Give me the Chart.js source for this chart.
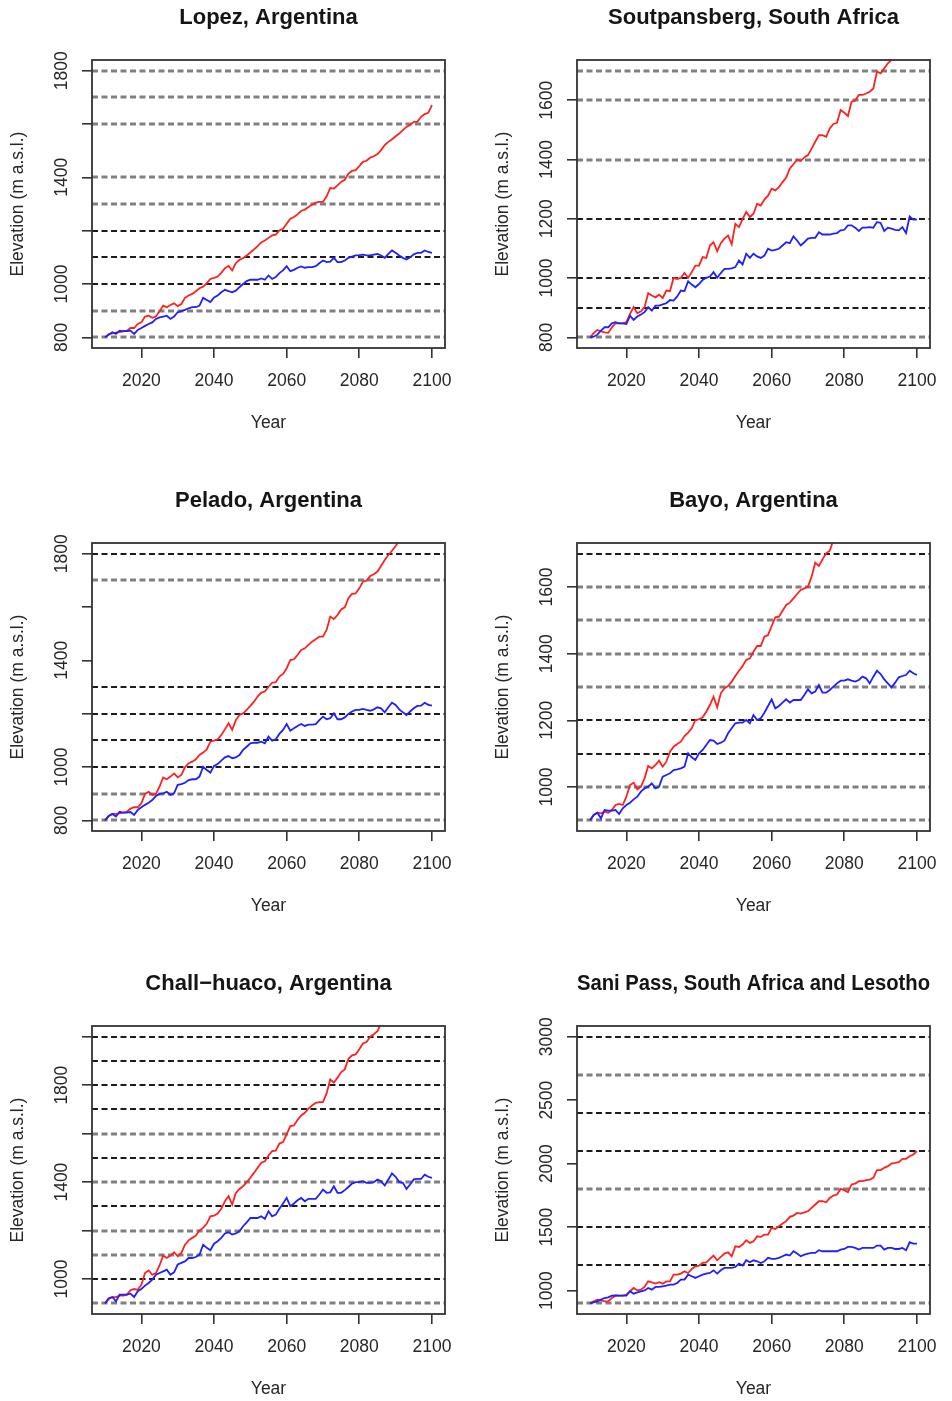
<!DOCTYPE html>
<html>
<head>
<meta charset="utf-8">
<script src="https://cdn.jsdelivr.net/npm/chart.js@4.4.1/dist/chart.umd.min.js"></script>
<style>
html, body { margin: 0; padding: 0; background: #fff; overflow: hidden; }
#wrap { position: relative; width: 952px; height: 1401px; overflow: hidden; }
#wrap canvas { position: absolute; }
</style>
</head>
<body>
<div id="wrap"></div>
<script>
// years on the x axis
const years = [
  2010, 2011, 2012, 2013, 2014, 2015, 2016, 2017, 2018, 2019,
  2020, 2021, 2022, 2023, 2024, 2025, 2026, 2027, 2028, 2029,
  2030, 2031, 2032, 2033, 2034, 2035, 2036, 2037, 2038, 2039,
  2040, 2041, 2042, 2043, 2044, 2045, 2046, 2047, 2048, 2049,
  2050, 2051, 2052, 2053, 2054, 2055, 2056, 2057, 2058, 2059,
  2060, 2061, 2062, 2063, 2064, 2065, 2066, 2067, 2068, 2069,
  2070, 2071, 2072, 2073, 2074, 2075, 2076, 2077, 2078, 2079,
  2080, 2081, 2082, 2083, 2084, 2085, 2086, 2087, 2088, 2089,
  2090, 2091, 2092, 2093, 2094, 2095, 2096, 2097, 2098, 2099,
  2100
];
const xTicks = [2020, 2040, 2060, 2080, 2100];

// Lopez, Argentina
const lopezRed = [
  800, 812, 815, 818, 820, 822, 825, 835, 835, 850,
  856, 878, 881, 873, 878, 898, 919, 913, 921, 928,
  917, 925, 948, 957, 963, 973, 984, 990, 1003, 1019,
  1023, 1028, 1042, 1059, 1068, 1051, 1078, 1091, 1097, 1107,
  1118, 1130, 1142, 1156, 1163, 1173, 1182, 1185, 1201, 1207,
  1226, 1245, 1251, 1261, 1274, 1279, 1289, 1297, 1305, 1308,
  1308, 1329, 1360, 1358, 1370, 1383, 1391, 1414, 1424, 1427,
  1442, 1458, 1462, 1474, 1479, 1487, 1502, 1521, 1533, 1543,
  1554, 1564, 1577, 1589, 1596, 1608, 1608, 1627, 1637, 1642,
  1671
];
const lopezBlue = [
  800, 810, 819, 813, 825, 823, 823, 825, 813, 828,
  835, 843, 850, 856, 869, 875, 878, 881, 869, 878,
  894, 898, 903, 909, 913, 913, 919, 948, 940, 932,
  950, 957, 969, 978, 973, 969, 975, 988, 1000, 1011,
  1016, 1016, 1016, 1021, 1016, 1032, 1019, 1026, 1041, 1051,
  1067, 1048, 1053, 1061, 1066, 1061, 1063, 1063, 1067, 1078,
  1088, 1082, 1084, 1098, 1082, 1082, 1088, 1098, 1103, 1107,
  1108, 1110, 1107, 1107, 1110, 1113, 1107, 1098, 1113, 1126,
  1117, 1107, 1098, 1092, 1100, 1111, 1117, 1117, 1126, 1120,
  1117
];
const lopezTicks = [800, 1000, 1200, 1400, 1600, 1800];
const lopezTickLabels = [800, 1000, 1400, 1800];
const lopezGray = [800, 900, 1300, 1400, 1600, 1700, 1800];
const lopezBlack = [1000, 1100, 1200];

// Soutpansberg, South Africa
const soutRed = [
  800, 814, 825, 820, 817, 815, 834, 847, 847, 847,
  851, 879, 902, 881, 888, 902, 949, 941, 935, 944,
  933, 958, 956, 1001, 997, 1001, 1017, 1001, 1020, 1042,
  1042, 1071, 1068, 1110, 1121, 1091, 1118, 1133, 1144, 1114,
  1183, 1172, 1200, 1223, 1206, 1217, 1251, 1245, 1265, 1278,
  1302, 1296, 1307, 1324, 1339, 1370, 1384, 1400, 1395, 1407,
  1415, 1437, 1460, 1482, 1482, 1477, 1505, 1520, 1524, 1567,
  1558, 1547, 1595, 1599, 1618, 1618, 1623, 1629, 1640, 1697,
  1691, 1708, 1725, 1736, 1760, 1775, 1790, 1800, 1815, 1830,
  1850
];
const soutBlue = [
  800, 802, 809, 823, 834, 834, 847, 851, 847, 847,
  845, 873, 859, 870, 877, 885, 902, 890, 907, 907,
  911, 915, 926, 924, 938, 958, 956, 989, 978, 969,
  980, 994, 1001, 1005, 1020, 1001, 1017, 1031, 1031, 1033,
  1037, 1059, 1046, 1082, 1068, 1082, 1073, 1068, 1076, 1099,
  1093, 1095, 1099, 1110, 1121, 1118, 1141, 1127, 1110, 1121,
  1133, 1136, 1136, 1155, 1147, 1147, 1147, 1150, 1152, 1161,
  1163, 1178, 1178, 1170, 1159, 1170, 1170, 1172, 1170, 1189,
  1186, 1159, 1170, 1167, 1163, 1161, 1172, 1152, 1208, 1197,
  1197
];
const soutTicks = [800, 1000, 1200, 1400, 1600];
const soutTickLabels = [800, 1000, 1200, 1400, 1600];
const soutGray = [800, 1400, 1600, 1700];
const soutBlack = [900, 1000, 1200];

// Pelado, Argentina
const peladoRed = [
  800, 816, 824, 824, 826, 829, 832, 844, 849, 849,
  864, 899, 907, 895, 899, 926, 961, 954, 964, 976,
  961, 970, 999, 1014, 1020, 1029, 1045, 1054, 1066, 1095,
  1099, 1104, 1120, 1141, 1164, 1139, 1176, 1195, 1201, 1214,
  1229, 1245, 1264, 1279, 1283, 1301, 1316, 1318, 1339, 1349,
  1370, 1401, 1404, 1420, 1439, 1445, 1458, 1470, 1479, 1489,
  1489, 1514, 1564, 1555, 1570, 1591, 1599, 1633, 1649, 1651,
  1670, 1695, 1699, 1716, 1723, 1733, 1754, 1776, 1795, 1811,
  1829, 1848, 1862, 1877, 1886, 1900, 1900, 1923, 1935, 1941,
  1976
];
const peladoBlue = [
  800, 816, 824, 814, 832, 829, 829, 831, 820, 839,
  849, 858, 866, 876, 891, 899, 901, 907, 895, 901,
  933, 936, 941, 951, 954, 954, 964, 1001, 989, 979,
  1004, 1011, 1024, 1036, 1041, 1033, 1036, 1045, 1064, 1076,
  1089, 1091, 1091, 1095, 1089, 1114, 1099, 1104, 1124, 1139,
  1161, 1136, 1145, 1154, 1161, 1154, 1159, 1159, 1161, 1176,
  1189, 1179, 1183, 1201, 1179, 1179, 1186, 1199, 1208, 1214,
  1214, 1218, 1214, 1211, 1216, 1224, 1220, 1205, 1224, 1241,
  1233, 1216, 1205, 1195, 1208, 1220, 1229, 1230, 1241, 1233,
  1230
];
const peladoTicks = [800, 1000, 1200, 1400, 1600, 1800];
const peladoTickLabels = [800, 1000, 1400, 1800];
const peladoGray = [800, 900, 1700];
const peladoBlack = [1000, 1100, 1200, 1300, 1800];

// Bayo, Argentina
const bayoRed = [
  900, 916, 923, 921, 926, 923, 931, 946, 949, 946,
  971, 1006, 1013, 993, 1001, 1026, 1063, 1056, 1066, 1079,
  1061, 1076, 1106, 1121, 1129, 1136, 1153, 1163, 1176, 1201,
  1203, 1209, 1226, 1246, 1271, 1239, 1281, 1296, 1303, 1316,
  1333, 1349, 1363, 1381, 1386, 1406, 1423, 1423, 1451, 1456,
  1483, 1509, 1511, 1529, 1546, 1553, 1566, 1579, 1591, 1596,
  1601, 1631, 1673, 1663, 1683, 1701, 1709, 1741, 1755, 1758,
  1780, 1808, 1812, 1832, 1840, 1852, 1878, 1905, 1925, 1940,
  1958, 1975, 1995, 2015, 2025, 2045, 2045, 2075, 2092, 2100,
  2145
];
const bayoBlue = [
  900, 916, 923, 906, 931, 929, 929, 931, 919, 936,
  946, 953, 963, 971, 986, 996, 1001, 1011, 996, 1001,
  1031, 1036, 1041, 1051, 1053, 1056, 1061, 1101, 1089, 1081,
  1101, 1111, 1126, 1141, 1139, 1129, 1133, 1139, 1161, 1176,
  1191, 1193, 1193, 1201, 1191, 1216, 1201, 1206, 1223, 1243,
  1263, 1236, 1243, 1253, 1263, 1253, 1261, 1261, 1261, 1276,
  1293, 1281, 1286, 1306, 1283, 1283, 1291, 1301, 1311, 1319,
  1319, 1323, 1319, 1316, 1321, 1331, 1326, 1311, 1331, 1349,
  1339, 1323, 1311, 1299, 1313, 1329, 1333, 1336, 1349, 1341,
  1336
];
const bayoTicks = [1000, 1200, 1400, 1600];
const bayoTickLabels = [1000, 1200, 1400, 1600];
const bayoGray = [900, 1000, 1300, 1400, 1500, 1600];
const bayoBlack = [1100, 1200, 1700];

// Chall-huaco, Argentina
const challRed = [
  900, 922, 926, 926, 932, 932, 936, 954, 959, 956,
  977, 1025, 1036, 1018, 1025, 1056, 1097, 1087, 1097, 1111,
  1094, 1108, 1142, 1160, 1170, 1179, 1201, 1211, 1229, 1259,
  1262, 1270, 1290, 1321, 1342, 1307, 1355, 1372, 1383, 1400,
  1418, 1438, 1459, 1480, 1486, 1510, 1528, 1530, 1559, 1565,
  1597, 1631, 1634, 1656, 1675, 1686, 1703, 1716, 1727, 1730,
  1730, 1766, 1824, 1810, 1831, 1854, 1865, 1909, 1923, 1927,
  1948, 1972, 1978, 2000, 2010, 2023, 2055, 2080, 2095, 2108,
  2122, 2136, 2152, 2168, 2177, 2194, 2194, 2220, 2233, 2240,
  2280
];
const challBlue = [
  900, 918, 926, 908, 936, 936, 936, 940, 926, 950,
  959, 973, 984, 998, 1018, 1025, 1032, 1039, 1018, 1028,
  1060, 1067, 1073, 1087, 1087, 1091, 1101, 1142, 1129, 1119,
  1146, 1156, 1170, 1188, 1193, 1184, 1188, 1197, 1218, 1234,
  1252, 1252, 1252, 1259, 1248, 1280, 1259, 1266, 1290, 1312,
  1335, 1301, 1312, 1325, 1335, 1321, 1331, 1331, 1331, 1349,
  1369, 1356, 1358, 1383, 1356, 1356, 1367, 1380, 1394, 1400,
  1400, 1404, 1397, 1397, 1400, 1411, 1404, 1386, 1411, 1436,
  1422, 1400, 1397, 1372, 1390, 1411, 1413, 1413, 1431, 1422,
  1418
];
const challTicks = [1000, 1200, 1400, 1600, 1800, 2000];
const challTickLabels = [1000, 1400, 1800];
const challGray = [900, 1100, 1200, 1400, 1600];
const challBlack = [1000, 1300, 1500, 1700, 1800, 1900, 2000];

// Sani Pass, South Africa and Lesotho
const saniRed = [
  900, 916, 929, 924, 916, 916, 942, 960, 960, 960,
  968, 995, 1021, 1002, 1008, 1029, 1073, 1066, 1055, 1066,
  1055, 1073, 1073, 1126, 1126, 1134, 1152, 1139, 1171, 1192,
  1197, 1218, 1223, 1250, 1276, 1239, 1266, 1292, 1302, 1271,
  1349, 1344, 1363, 1397, 1376, 1389, 1428, 1423, 1441, 1441,
  1494, 1486, 1507, 1528, 1547, 1581, 1591, 1612, 1607, 1617,
  1625, 1652, 1678, 1704, 1704, 1696, 1730, 1749, 1757, 1801,
  1791, 1775, 1836, 1843, 1862, 1862, 1870, 1875, 1888, 1949,
  1949, 1967, 1980, 2001, 2006, 2012, 2038, 2038, 2059, 2072,
  2098
];
const saniBlue = [
  900, 908, 916, 929, 942, 947, 960, 963, 960, 960,
  960, 995, 976, 987, 995, 1002, 1021, 1008, 1029, 1029,
  1034, 1039, 1047, 1047, 1060, 1087, 1087, 1126, 1113, 1100,
  1113, 1126, 1134, 1139, 1160, 1134, 1160, 1179, 1179, 1179,
  1186, 1213, 1197, 1239, 1223, 1239, 1231, 1218, 1231, 1258,
  1250, 1250, 1258, 1271, 1284, 1276, 1310, 1292, 1271, 1284,
  1292, 1297, 1297, 1318, 1310, 1310, 1310, 1310, 1310, 1323,
  1328, 1344, 1344, 1336, 1323, 1336, 1336, 1336, 1336, 1355,
  1355, 1323, 1336, 1336, 1328, 1328, 1336, 1318, 1381, 1370,
  1370
];
const saniTicks = [1000, 1500, 2000, 2500, 3000];
const saniTickLabels = [1000, 1500, 2000, 2500, 3000];
const saniGray = [900, 1800, 2700];
const saniBlack = [1200, 1500, 2100, 2400, 3000];

const panels = [
  { title: 'Lopez, Argentina', red: lopezRed, blue: lopezBlue, lim: [800, 1800],
    ticks: lopezTicks, labels: lopezTickLabels, gray: lopezGray, black: lopezBlack },
  { title: 'Soutpansberg, South Africa', red: soutRed, blue: soutBlue, lim: [800, 1700],
    ticks: soutTicks, labels: soutTickLabels, gray: soutGray, black: soutBlack },
  { title: 'Pelado, Argentina', red: peladoRed, blue: peladoBlue, lim: [800, 1800],
    ticks: peladoTicks, labels: peladoTickLabels, gray: peladoGray, black: peladoBlack },
  { title: 'Bayo, Argentina', red: bayoRed, blue: bayoBlue, lim: [900, 1700],
    ticks: bayoTicks, labels: bayoTickLabels, gray: bayoGray, black: bayoBlack },
  { title: 'Chall\u2212huaco, Argentina', red: challRed, blue: challBlue, lim: [900, 2000],
    ticks: challTicks, labels: challTickLabels, gray: challGray, black: challBlack },
  { title: 'Sani Pass, South Africa and Lesotho', red: saniRed, blue: saniBlue, lim: [900, 3000],
    ticks: saniTicks, labels: saniTickLabels, gray: saniGray, black: saniBlack }
];

const FONT = '"Liberation Sans", Arial, Helvetica, sans-serif';
const AXIS_SIZE = 17.5;
Chart.defaults.font.family = FONT;
Chart.defaults.color = '#262626';

// R-like extras: dashed reference lines, plot box, rotated y tick labels
const rStyle = {
  id: 'rStyle',
  beforeDatasetsDraw(chart, args, opts) {
    const { ctx, chartArea: a } = chart;
    const y = chart.scales.y;
    ctx.save();
    ctx.beginPath();
    ctx.rect(a.left, a.top, a.right - a.left, a.bottom - a.top);
    ctx.clip();
    ctx.setLineDash([6, 3.5]);
    const sets = [[opts.gray, '#808080', 3], [opts.black, '#1c1c1c', 2]];
    for (const [list, color, w] of sets) {
      ctx.strokeStyle = color;
      ctx.lineWidth = w;
      for (const v of list) {
        const py = Math.round(y.getPixelForValue(v));
        ctx.beginPath();
        ctx.moveTo(a.left, py);
        ctx.lineTo(a.right, py);
        ctx.stroke();
      }
    }
    ctx.restore();
  },
  afterDraw(chart, args, opts) {
    const { ctx, chartArea: a } = chart;
    const y = chart.scales.y;
    ctx.save();
    ctx.strokeStyle = '#333';
    ctx.lineWidth = 1.8;
    ctx.strokeRect(a.left, a.top, a.right - a.left, a.bottom - a.top);
    ctx.fillStyle = '#262626';
    ctx.font = AXIS_SIZE + 'px ' + FONT;
    ctx.textAlign = 'center';
    ctx.textBaseline = 'middle';
    for (const v of opts.labels) {
      ctx.save();
      ctx.translate(y.right - 30, y.getPixelForValue(v));
      ctx.rotate(-Math.PI / 2);
      ctx.fillText(String(v), 0, 0);
      ctx.restore();
    }
    ctx.restore();
  }
};

const wrap = document.getElementById('wrap');
const tickGrid = { drawOnChartArea: false, drawTicks: true, tickLength: 10, color: '#333', lineWidth: 1.6 };

panels.forEach((p, i) => {
  const cv = document.createElement('canvas');
  cv.width = 467;
  cv.height = 483;
  cv.style.left = (i % 2) * 485 + 'px';
  cv.style.top = Math.floor(i / 2) * 483 + 'px';
  wrap.appendChild(cv);

  const pad = (p.lim[1] - p.lim[0]) * 0.04;
  new Chart(cv, {
    type: 'line',
    data: {
      datasets: [
        { data: years.map((x, k) => ({ x, y: p.blue[k] })), borderColor: '#2020ff', borderWidth: 1.8, pointRadius: 0, tension: 0 },
        { data: years.map((x, k) => ({ x, y: p.red[k] })), borderColor: '#ff2020', borderWidth: 1.8, pointRadius: 0, tension: 0 }
      ]
    },
    options: {
      responsive: false,
      animation: false,
      layout: { padding: { left: 0, right: 22, top: 0, bottom: 0 } },
      plugins: {
        legend: { display: false },
        tooltip: { enabled: false },
        title: {
          display: true, text: p.title, fullSize: false, color: '#151515',
          font: { size: 22, weight: 'bold' }, padding: { top: 5, bottom: 28.6 }
        },
        rStyle: { gray: p.gray, black: p.black, labels: p.labels }
      },
      scales: {
        x: {
          type: 'linear', min: 2010 - 3.6, max: 2100 + 3.6,
          afterBuildTicks: s => { s.ticks = xTicks.map(v => ({ value: v })); },
          afterFit: s => { s.height = 135; },
          ticks: { font: { size: AXIS_SIZE }, padding: 13, autoSkip: false, maxRotation: 0, callback: v => String(v) },
          grid: tickGrid,
          border: { display: false },
          title: { display: true, text: 'Year', font: { size: AXIS_SIZE }, padding: { top: 0, bottom: 49 } }
        },
        y: {
          type: 'linear', min: p.lim[0] - pad, max: p.lim[1] + pad,
          afterBuildTicks: s => { s.ticks = p.ticks.map(v => ({ value: v })); },
          afterFit: s => { s.width = 92; },
          ticks: { display: false },
          grid: tickGrid,
          border: { display: false },
          title: { display: true, text: 'Elevation (m a.s.l.)', font: { size: AXIS_SIZE }, padding: { top: 7.5, bottom: 0 } }
        }
      }
    },
    plugins: [rStyle]
  });
});
</script>
</body>
</html>
